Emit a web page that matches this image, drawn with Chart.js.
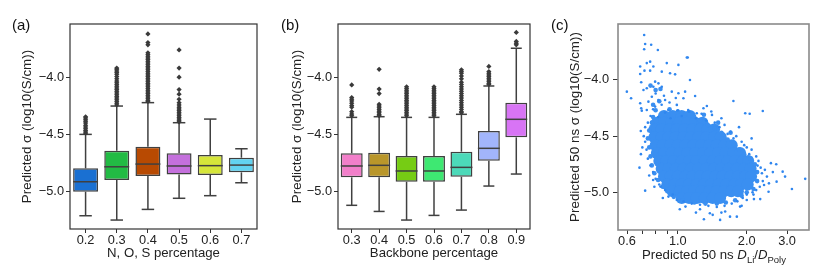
<!DOCTYPE html>
<html>
<head>
<meta charset="utf-8">
<script src="https://cdn.jsdelivr.net/npm/chart.js@4.4.1/dist/chart.umd.min.js"></script>
<style>
  body { margin: 0; background: #fff; font-family: "Liberation Sans", Arial, sans-serif; }
  #wrap { position: relative; width: 831px; height: 280px; overflow: hidden; }
  canvas { position: absolute; top: 0; }
  .lbl { position: absolute; top: 16px; font-size: 15px; color: #111; }
  #xc { position: absolute; top: 247px; left: 614px; width: 200px; text-align: center; font-size: 13.2px; color: #222; white-space: nowrap; }
  #xc sub { font-size: 9.5px; }
</style>
</head>
<body>
<div id="wrap">
  <canvas id="chartA" width="270" height="280" style="left:0"></canvas>
  <canvas id="chartB" width="270" height="280" style="left:270px"></canvas>
  <canvas id="chartC" width="291" height="280" style="left:540px"></canvas>
  <div class="lbl" style="left:12px">(a)</div>
  <div class="lbl" style="left:281px">(b)</div>
  <div class="lbl" style="left:551px">(c)</div>
  <div id="xc">Predicted 50 ns <i>D</i><sub>Li</sub>/<i>D</i><sub>Poly</sub></div>
</div>
<script>
// (a) N, O, S percentage
const catsA = ['0.2', '0.3', '0.4', '0.5', '0.6', '0.7'];
const q1A  = [-5.006, -4.903, -4.868, -4.853, -4.859, -4.835];
const medA = [-4.918, -4.786, -4.762, -4.779, -4.776, -4.771];
const q3A  = [-4.800, -4.644, -4.609, -4.667, -4.682, -4.706];
const loA  = [-5.218, -5.256, -5.162, -5.064, -5.041, -4.927];
const hiA  = [-4.500, -4.250, -4.220, -4.397, -4.365, -4.627];
const outA = [
  [-4.345, -4.355, -4.37, -4.385, -4.40, -4.42, -4.435, -4.45, -4.465, -4.48, -4.49],
  [-3.915, -3.925, -3.94, -3.955, -3.97, -3.99, -4.01, -4.03, -4.045, -4.06, -4.075, -4.09, -4.105,
   -4.12, -4.135, -4.15, -4.165, -4.18, -4.195, -4.21, -4.225, -4.24],
  [-3.614, -3.69, -3.71, -3.78, -3.795, -3.81, -3.825, -3.84, -3.855, -3.87, -3.885, -3.90, -3.915,
   -3.93, -3.945, -3.96, -3.975, -3.99, -4.005, -4.02, -4.035, -4.05, -4.065, -4.08, -4.095, -4.11,
   -4.125, -4.14, -4.155, -4.17, -4.185, -4.20, -4.21],
  [-3.755, -3.915, -3.995, -4.105, -4.145, -4.19, -4.22, -4.24, -4.26, -4.275, -4.29, -4.305, -4.32,
   -4.335, -4.35, -4.365, -4.38, -4.39],
  [],
  []
];
const colorsA = ['#1a70d2', '#22bb44', '#b84a02', '#c470dc', '#d6e63a', '#62d2f0'];

// (b) Backbone percentage
const catsB = ['0.3', '0.4', '0.5', '0.6', '0.7', '0.8', '0.9'];
const q1B  = [-4.879, -4.879, -4.918, -4.918, -4.874, -4.733, -4.526];
const medB = [-4.779, -4.773, -4.823, -4.823, -4.791, -4.623, -4.367];
const q3B  = [-4.667, -4.662, -4.691, -4.691, -4.653, -4.470, -4.221];
const loB  = [-5.126, -5.180, -5.256, -5.215, -5.168, -4.956, -4.850];
const hiB  = [-4.350, -4.344, -4.350, -4.350, -4.323, -4.073, -3.740];
const outB = [
  [-4.064, -4.175, -4.19, -4.205, -4.225, -4.245, -4.26, -4.30, -4.32, -4.335],
  [-3.926, -4.10, -4.14, -4.235, -4.25, -4.265, -4.28, -4.295, -4.31, -4.325, -4.335],
  [-4.08, -4.095, -4.11, -4.125, -4.14, -4.155, -4.17, -4.185, -4.20, -4.215, -4.23, -4.245, -4.26,
   -4.275, -4.29, -4.305, -4.32, -4.335],
  [-4.08, -4.095, -4.11, -4.125, -4.14, -4.155, -4.17, -4.185, -4.20, -4.215, -4.23, -4.245, -4.26,
   -4.275, -4.29, -4.305, -4.32, -4.335],
  [-3.93, -3.945, -3.96, -3.985, -4.01, -4.04, -4.06, -4.08, -4.10, -4.12, -4.14, -4.16, -4.18,
   -4.20, -4.22, -4.24, -4.26, -4.28, -4.30, -4.31],
  [-3.90, -3.945, -3.96, -3.975, -3.99, -4.005, -4.02, -4.035, -4.05, -4.06],
  [-3.60, -3.68, -3.695, -3.71]
];
const colorsB = ['#f27fca', '#b9962a', '#76cc14', '#3ee872', '#4cd9b9', '#a2b5fb', '#d874f5'];

// (c) scatter: dense core rows, a fringe around them, and sparse points
const coreY = [-4.32, -4.38, -4.44, -4.51, -4.58, -4.65, -4.72, -4.79, -4.86, -4.93, -4.99, -5.05];
const coreX = [
  [0.87, 0.95, 1.04, 1.13],
  [0.81, 0.87, 0.94, 1.01, 1.10, 1.19, 1.28],
  [0.79, 0.85, 0.92, 0.99, 1.07, 1.16, 1.25, 1.35, 1.44],
  [0.79, 0.85, 0.91, 0.98, 1.06, 1.14, 1.23, 1.33, 1.44, 1.54],
  [0.80, 0.86, 0.93, 1.00, 1.08, 1.17, 1.27, 1.37, 1.48, 1.60, 1.72],
  [0.81, 0.87, 0.94, 1.02, 1.10, 1.19, 1.29, 1.39, 1.50, 1.62, 1.75, 1.87],
  [0.83, 0.89, 0.96, 1.04, 1.12, 1.21, 1.31, 1.42, 1.53, 1.65, 1.78, 1.92, 2.03],
  [0.85, 0.91, 0.98, 1.06, 1.14, 1.23, 1.33, 1.44, 1.55, 1.67, 1.81, 1.95, 2.08],
  [0.87, 0.93, 1.00, 1.08, 1.16, 1.25, 1.35, 1.46, 1.57, 1.70, 1.83, 1.97, 2.09],
  [0.90, 0.97, 1.04, 1.12, 1.21, 1.30, 1.40, 1.51, 1.63, 1.76, 1.89, 2.02],
  [0.95, 1.02, 1.10, 1.18, 1.27, 1.37, 1.48, 1.59, 1.71, 1.83],
  [1.04, 1.12, 1.21, 1.31, 1.42, 1.53]
];
const fringe = [
  [0.80, -4.27], [0.92, -4.26], [1.00, -4.28], [1.08, -4.30], [1.18, -4.33], [1.25, -4.36],
  [1.35, -4.40], [1.45, -4.43], [1.55, -4.47], [1.65, -4.53], [1.75, -4.57], [1.85, -4.62],
  [1.95, -4.66], [2.08, -4.70], [2.17, -4.75], [2.22, -4.82], [2.22, -4.90], [2.14, -4.97],
  [2.00, -5.00], [1.90, -5.03], [1.78, -5.07], [1.62, -5.09], [1.48, -5.10], [1.32, -5.10],
  [1.18, -5.09], [1.05, -5.07], [0.96, -5.04], [0.90, -4.99], [0.86, -4.95], [0.82, -4.89],
  [0.79, -4.83], [0.77, -4.76], [0.76, -4.68], [0.75, -4.60], [0.74, -4.52], [0.75, -4.45],
  [0.77, -4.38], [0.78, -4.33], [0.78, -4.22], [0.83, -4.19], [0.80, -4.09], [0.76, -4.05],
  [0.84, -4.08], [1.3, -4.31], [1.5, -4.38], [1.7, -4.47]
];
const sparse = [
  [0.713, -3.60], [0.72, -3.68], [0.765, -3.686], [0.713, -3.727], [0.818, -3.733], [1.105, -3.80],
  [0.757, -3.837], [0.732, -3.85], [0.895, -3.85], [1.006, -3.866], [0.685, -3.88], [0.782, -3.88],
  [0.715, -3.917], [0.757, -3.917], [0.851, -3.926], [0.685, -3.947], [0.925, -3.94], [0.973, -3.95],
  [1.13, -4.0], [0.692, -4.02], [0.796, -4.015], [0.823, -4.03], [0.782, -4.06], [0.732, -4.074],
  [0.708, -4.089], [0.851, -4.06], [0.599, -4.104], [0.625, -4.163], [0.685, -4.207], [0.692, -4.252],
  [0.696, -4.273], [0.941, -4.104], [1.006, -4.118], [1.076, -4.104], [1.058, -4.163], [1.19, -4.142],
  [1.294, -4.252], [1.339, -4.231], [0.744, -4.193], [0.77, -4.149], [0.823, -4.178], [0.88, -4.178],
  [0.732, -4.267], [0.796, -4.237], [0.99, -4.222], [0.91, -4.267], [1.11, -4.267], [1.21, -4.296],
  [1.41, -4.311], [1.749, -4.187], [2.35, -4.276], [1.97, -4.296], [2.06, -4.30], [1.095, -3.80],
  [0.68, -4.78], [0.72, -4.985], [0.689, -4.454], [3.6, -4.88], [3.15, -4.97], [2.94, -4.86],
  [2.87, -4.816], [2.69, -4.75], [2.70, -4.905], [2.49, -4.994], [2.33, -4.83], [2.23, -4.762],
  [2.38, -4.934], [2.14, -5.02], [1.87, -5.127], [1.69, -5.216], [1.53, -5.245], [1.38, -5.186],
  [1.25, -5.15], [1.08, -5.127], [0.99, -5.068], [0.91, -5.038], [0.84, -4.949], [0.78, -4.89],
  [1.81, -5.216], [1.61, -5.17], [2.0, -5.068], [2.29, -5.06],
  [0.82, -4.33], [0.88, -4.29], [0.93, -4.34], [1.0, -4.27], [1.04, -4.32], [1.12, -4.28],
  [1.2, -4.34], [1.27, -4.30], [1.33, -4.36], [1.45, -4.38], [1.52, -4.42], [1.6, -4.40],
  [1.7, -4.46], [1.8, -4.5], [1.9, -4.55], [2.0, -4.6], [2.1, -4.62], [2.2, -4.68], [2.25, -4.72],
  [1.65, -4.48], [1.75, -4.52], [1.95, -4.58], [2.05, -4.66], [2.3, -4.78], [2.4, -4.8],
  [2.45, -4.86], [2.35, -4.9], [2.28, -4.95], [2.2, -4.98], [2.12, -5.0], [2.0, -5.02],
  [1.92, -5.05], [1.82, -5.08], [1.72, -5.1], [1.6, -5.12], [1.48, -5.13], [1.36, -5.12],
  [1.25, -5.11], [1.15, -5.1], [1.06, -5.08], [0.95, -5.02], [0.88, -4.98], [0.83, -4.93],
  [0.8, -4.88], [0.78, -4.82], [0.76, -4.76], [0.74, -4.7], [0.73, -4.62], [0.72, -4.55],
  [0.71, -4.5], [0.72, -4.42], [0.74, -4.38], [0.76, -4.32], [0.7, -4.6], [0.69, -4.66],
  [0.75, -4.85], [0.79, -4.95], [0.86, -5.05], [1.02, -5.15], [1.2, -5.18], [1.42, -5.2],
  [1.3, -5.24], [1.55, -5.18], [1.9, -5.12], [2.15, -5.06], [2.5, -4.92], [2.6, -4.82],
  [2.55, -4.74], [1.85, -4.42], [2.1, -4.52], [1.4, -4.28], [1.55, -4.34], [0.78, -4.26],
  [0.85, -4.22], [0.92, -4.2], [0.98, -4.16], [0.8, -4.12], [0.87, -4.14]
];

const yTicks = [-5.0, -4.5, -4.0];
const xTicksC = [0.6, 0.7, 0.8, 0.9, 1.0, 2.0, 3.0];
const xLabelsC = [0.6, 1.0, 2.0, 3.0];

const FONT = '"Liberation Sans", Arial, sans-serif';
const fmtMinus = v => (v < 0 ? '\u2212' : '') + Math.abs(v).toFixed(1);

function framePlugin(color, width) {
  return {
    id: 'frame',
    afterDraw(chart) {
      const a = chart.chartArea, ctx = chart.ctx;
      ctx.save();
      ctx.strokeStyle = color;
      ctx.lineWidth = width;
      ctx.strokeRect(a.left, a.top, a.right - a.left, a.bottom - a.top);
      ctx.restore();
    }
  };
}

function whiskerPlugin(lo, hi, q1, q3, med) {
  const line = (ctx, x1, y1, x2, y2) => { ctx.beginPath(); ctx.moveTo(x1, y1); ctx.lineTo(x2, y2); ctx.stroke(); };
  return {
    id: 'whiskers',
    beforeDatasetsDraw(chart) {
      const ctx = chart.ctx, xs = chart.scales.x, ys = chart.scales.y;
      const bars = chart.getDatasetMeta(0).data;
      ctx.save();
      ctx.strokeStyle = '#404040';
      ctx.lineWidth = 1.5;
      lo.forEach((v, i) => {
        const cx = xs.getPixelForValue(i);
        const cap = bars[i].width / 4;
        line(ctx, cx, ys.getPixelForValue(q1[i]), cx, ys.getPixelForValue(v));
        line(ctx, cx, ys.getPixelForValue(q3[i]), cx, ys.getPixelForValue(hi[i]));
        line(ctx, cx - cap, ys.getPixelForValue(v), cx + cap, ys.getPixelForValue(v));
        line(ctx, cx - cap, ys.getPixelForValue(hi[i]), cx + cap, ys.getPixelForValue(hi[i]));
      });
      ctx.restore();
    },
    afterDatasetsDraw(chart) {
      const ctx = chart.ctx, xs = chart.scales.x, ys = chart.scales.y;
      const bars = chart.getDatasetMeta(0).data;
      ctx.save();
      ctx.strokeStyle = '#404040';
      ctx.lineWidth = 1.5;
      med.forEach((m, i) => {
        const cx = xs.getPixelForValue(i);
        const hw = bars[i].width / 2;
        line(ctx, cx - hw, ys.getPixelForValue(m), cx + hw, ys.getPixelForValue(m));
      });
      ctx.restore();
    }
  };
}

function tickGrid(len) {
  return { display: true, drawOnChartArea: false, drawTicks: true, tickLength: len, tickColor: '#333', tickWidth: 1 };
}

function boxChart(id, cats, q1, med, q3, lo, hi, outs, colors, xTitle, yWidth, padRight) {
  const outPts = [];
  outs.forEach((vals, i) => vals.forEach(v => outPts.push({ x: cats[i], y: v })));
  new Chart(document.getElementById(id), {
    type: 'bar',
    data: {
      labels: cats,
      datasets: [{
        data: cats.map((c, i) => [q1[i], q3[i]]),
        backgroundColor: colors,
        borderColor: '#404040',
        borderWidth: 1.5,
        borderSkipped: false,
        barPercentage: 0.8,
        categoryPercentage: 1
      }, {
        type: 'line',
        data: outPts,
        showLine: false,
        pointStyle: 'rectRot',
        pointRadius: 2.6,
        pointBackgroundColor: '#3a3a3a',
        pointBorderWidth: 0
      }]
    },
    options: {
      responsive: false,
      animation: false,
      devicePixelRatio: 1,
      layout: { padding: { top: 24, right: padRight, left: 0, bottom: 0 } },
      plugins: { legend: { display: false }, tooltip: { enabled: false } },
      scales: {
        x: {
          grid: Object.assign(tickGrid(4), { offset: false }),
          border: { display: false },
          ticks: { color: '#222', font: { family: FONT, size: 12.8 }, padding: 0 },
          title: { display: true, text: xTitle, color: '#222', font: { family: FONT, size: 13.2 }, padding: { top: 0, bottom: 19 } },
          afterFit: s => { s.height = 51; }
        },
        y: {
          min: -5.335,
          max: -3.526,
          grid: tickGrid(4),
          border: { display: false },
          afterBuildTicks: s => { s.ticks = yTicks.map(v => ({ value: v })); },
          ticks: { color: '#222', font: { family: FONT, size: 12.8 }, padding: 2, callback: fmtMinus },
          title: { display: true, text: 'Predicted \u03c3 (log10(S/cm))', color: '#222', font: { family: FONT, size: 13.4 }, padding: { top: 19, bottom: 0 } },
          afterFit: s => { s.width = yWidth; }
        }
      }
    },
    plugins: [whiskerPlugin(lo, hi, q1, q3, med), framePlugin('#333', 1.2)]
  });
}

boxChart('chartA', catsA, q1A, medA, q3A, loA, hiA, outA, colorsA, 'N, O, S percentage', 70, 13);
boxChart('chartB', catsB, q1B, medB, q3B, loB, hiB, outB, colorsB, 'Backbone percentage', 68, 10);

const corePts = [];
coreY.forEach((y, r) => coreX[r].forEach(x => corePts.push({ x: x, y: y })));

new Chart(document.getElementById('chartC'), {
  type: 'scatter',
  data: {
    datasets: [{
      data: sparse.map(p => ({ x: p[0], y: p[1] })),
      pointRadius: 1.3,
      pointBackgroundColor: '#2f86ef',
      pointBorderWidth: 0
    }, {
      data: fringe.map(p => ({ x: p[0], y: p[1] })),
      pointRadius: 2.3,
      pointBackgroundColor: '#3a8ff1',
      pointBorderWidth: 0
    }, {
      data: corePts,
      pointRadius: 6,
      pointBackgroundColor: '#3a8ff1',
      pointBorderWidth: 0
    }]
  },
  options: {
    responsive: false,
    animation: false,
    devicePixelRatio: 1,
    layout: { padding: { top: 24, right: 22, left: 0, bottom: 0 } },
    plugins: { legend: { display: false }, tooltip: { enabled: false } },
    scales: {
      x: {
        type: 'logarithmic',
        min: 0.548,
        max: 3.74,
        grid: tickGrid(4),
        border: { display: false },
        afterBuildTicks: s => { s.ticks = xTicksC.map(v => ({ value: v })); },
        ticks: {
          autoSkip: false, maxRotation: 0, color: '#222', font: { family: FONT, size: 12.8 }, padding: 0,
          callback: v => xLabelsC.includes(v) ? v.toFixed(1) : ''
        },
        afterFit: s => { s.height = 50; }
      },
      y: {
        min: -5.335,
        max: -3.502,
        grid: tickGrid(5),
        border: { display: false },
        afterBuildTicks: s => { s.ticks = yTicks.map(v => ({ value: v })); },
        ticks: { color: '#222', font: { family: FONT, size: 12.8 }, padding: 4, callback: fmtMinus },
        title: { display: true, text: 'Predicted 50 ns \u03c3 (log10(S/cm))', color: '#222', font: { family: FONT, size: 13.4 }, padding: { top: 27, bottom: 0 } },
        afterFit: s => { s.width = 78; }
      }
    }
  },
  plugins: [framePlugin('#8a8a8a', 1.6)]
});
</script>
</body>
</html>
